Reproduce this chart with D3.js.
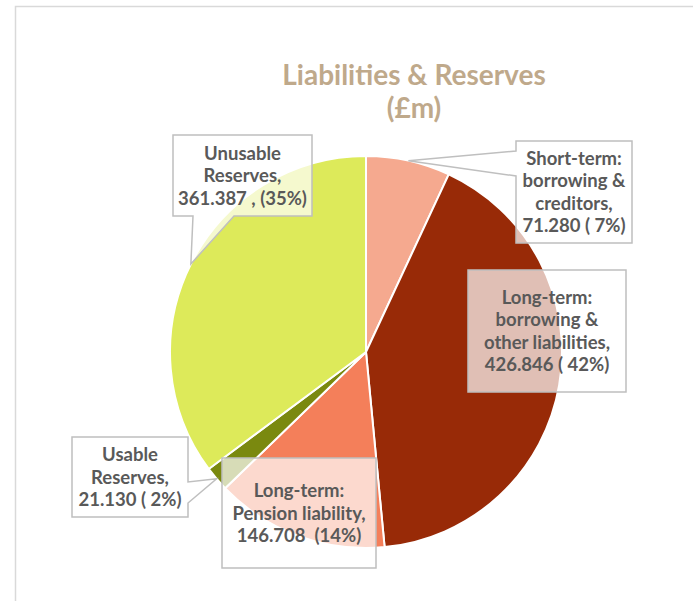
<!DOCTYPE html>
<html>
<head>
<meta charset="utf-8">
<script src="https://cdn.jsdelivr.net/npm/d3@7"></script>
<style>
  body { margin: 0; background: #fff; }
  svg { display: block; font-family: Lato, "Open Sans", sans-serif; }
</style>
</head>
<body>
<div id="chart"></div>
<script>
// data
var categories = [
  "Short-term: borrowing & creditors",
  "Long-term: borrowing & other liabilities",
  "Long-term: Pension liability",
  "Usable Reserves",
  "Unusable Reserves"
];
var values = [71.280, 426.846, 146.708, 21.130, 361.387];
var labelLines = [
  ["Short-term:", "borrowing &", "creditors,", "71.280 ( 7%)"],
  ["Long-term:", "borrowing &", "other liabilities,", "426.846 ( 42%)"],
  ["Long-term:", "Pension liability,", "146.708  (14%)"],
  ["Usable", "Reserves,", "21.130 ( 2%)"],
  ["Unusable", "Reserves,", "361.387 , (35%)"]
];
var colors = ["#f5a98f", "#982a07", "#f47f5a", "#7a890f", "#ddea5a"];
var titleLines = ["Liabilities & Reserves", "(£m)"];

// callout boxes (layout only)
var boxes = [
  {x: 516, y: 141, w: 116, h: 102, side: "left",   a: 151, b: 176},
  {x: 468, y: 270, w: 158, h: 122, side: null},
  {x: 222, y: 458, w: 154, h: 110, side: null},
  {x: 72,  y: 437, w: 116, h: 80,  side: "right",  a: 482, b: 503},
  {x: 173, y: 135, w: 139, h: 81,  side: "bottom", a: 193, b: 234}
];

var width = 693, height = 601;
var cx = 366, cy = 352, radius = 196;
var lineH = 22.5;

var svg = d3.select("#chart").append("svg")
    .attr("width", width)
    .attr("height", height);

// chart area border
svg.append("rect")
    .attr("x", 15.5).attr("y", 6.5)
    .attr("width", width + 10).attr("height", height + 10)
    .style("fill", "#fff")
    .style("stroke", "#d9d9d9")
    .style("stroke-width", "1.5px");

svg.selectAll(".title")
    .data(titleLines)
  .enter().append("text")
    .attr("class", "title")
    .attr("x", 414)
    .attr("y", function (d, i) { return 85 + i * 33; })
    .attr("text-anchor", "middle")
    .style("font-size", "28px")
    .style("font-weight", "bold")
    .style("fill", "#bfa98b")
    .text(function (d) { return d; });

var pie = d3.pie().sort(null).value(function (d) { return d; });
var arcs = pie(values);
var arc = d3.arc().innerRadius(0).outerRadius(radius);

var g = svg.append("g").attr("transform", "translate(" + cx + "," + cy + ")");

g.selectAll(".slice")
    .data(arcs)
  .enter().append("path")
    .attr("class", "slice")
    .attr("d", arc)
    .style("fill", function (d, i) { return colors[i]; })
    .style("stroke", "#fff")
    .style("stroke-width", "2px");

// pointer tip sits on the outer edge at the middle of the slice
function tipOf(d) {
  var a = (d.startAngle + d.endAngle) / 2;
  return [cx + radius * Math.sin(a), cy - radius * Math.cos(a)];
}

function calloutPath(b, tip) {
  var x0 = b.x, y0 = b.y, x1 = b.x + b.w, y1 = b.y + b.h;
  var p = d3.path();
  p.moveTo(x0, y0);
  p.lineTo(x1, y0);
  if (b.side == "right") {
    p.lineTo(x1, b.a); p.lineTo(tip[0], tip[1]); p.lineTo(x1, b.b);
  }
  p.lineTo(x1, y1);
  if (b.side == "bottom") {
    p.lineTo(b.b, y1); p.lineTo(tip[0], tip[1]); p.lineTo(b.a, y1);
  }
  p.lineTo(x0, y1);
  if (b.side == "left") {
    p.lineTo(x0, b.b); p.lineTo(tip[0], tip[1]); p.lineTo(x0, b.a);
  }
  p.closePath();
  return p.toString();
}

var labels = svg.selectAll(".callout")
    .data(arcs)
  .enter().append("g")
    .attr("class", "callout");

labels.append("path")
    .attr("d", function (d, i) { return calloutPath(boxes[i], tipOf(d)); })
    .style("fill", "#fff")
    .style("fill-opacity", 0.7)
    .style("stroke", "#bfbfbf")
    .style("stroke-width", "1.5px")
    .style("stroke-linejoin", "miter");

labels.each(function (d, i) {
  var b = boxes[i];
  var lines = labelLines[i];
  var first = b.y + b.h / 2 - (lines.length - 1) * lineH / 2 + 6.5;
  d3.select(this).selectAll("text")
      .data(lines)
    .enter().append("text")
      .attr("x", b.x + b.w / 2)
      .attr("y", function (t, j) { return first + j * lineH; })
      .attr("text-anchor", "middle")
      .style("font-size", "18.5px")
      .style("font-weight", "bold")
      .style("white-space", "pre")
      .style("fill", "#595959")
      .text(function (t) { return t; });
});
</script>
</body>
</html>
